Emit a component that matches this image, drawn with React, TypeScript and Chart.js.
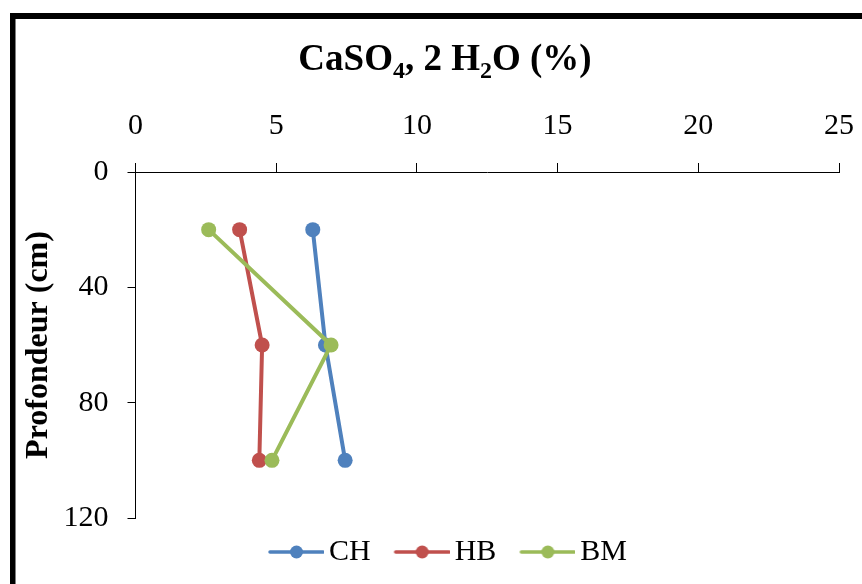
import React, { useEffect, useRef } from 'react';
import { Chart, registerables } from 'chart.js';

Chart.register(...registerables);

const seriesNames = ['CH', 'HB', 'BM'];
const depths = [20, 60, 100];
const chValues = [6.3, 6.75, 7.45];
const hbValues = [3.7, 4.5, 4.4];
const bmValues = [2.6, 6.95, 4.85];
const seriesColors = ['#4F81BD', '#C0504D', '#9BBB59'];
const xTickValues = [0, 5, 10, 15, 20, 25];
const yTickValues = [0, 40, 80, 120];

const FONT = '"Liberation Serif", "Times New Roman", Times, serif';

const LEG_BOX = 50;
const LEG_PAD = 19;

function makeLegendIcon(color: string): HTMLCanvasElement {
  const c = document.createElement('canvas');
  const w = LEG_BOX + 20;
  c.width = w;
  c.height = 16;
  const ctx = c.getContext('2d')!;
  const end = w / 2 + LEG_BOX / 2 + 9;
  const start = end - 53;
  ctx.strokeStyle = color;
  ctx.lineWidth = 3.5;
  ctx.lineCap = 'round';
  ctx.beginPath();
  ctx.moveTo(start, 8);
  ctx.lineTo(end, 8);
  ctx.stroke();
  ctx.fillStyle = color;
  ctx.beginPath();
  ctx.arc((start + end) / 2, 8, 6.5, 0, Math.PI * 2);
  ctx.fill();
  return c;
}

const framePlugin = {
  id: 'frameAndTitle',
  beforeDraw(chart: any) {
    const ctx = chart.ctx;
    ctx.save();
    ctx.fillStyle = '#fff';
    ctx.fillRect(0, 0, chart.width, chart.height);
    ctx.fillStyle = '#000';
    ctx.fillRect(10, 13, 5.5, chart.height);
    ctx.fillRect(10, 13, chart.width, 6);
    ctx.restore();
  },
  afterDraw(chart: any) {
    const ctx = chart.ctx;
    ctx.save();
    const parts: [string, boolean][] = [
      ['CaSO', false],
      ['4', true],
      [', 2 H', false],
      ['2', true],
      ['O (%)', false],
    ];
    const big = `bold 37px ${FONT}`;
    const small = `bold 24px ${FONT}`;
    let total = 0;
    for (const [t, sub] of parts) {
      ctx.font = sub ? small : big;
      total += ctx.measureText(t).width;
    }
    let x = 445 - total / 2;
    const baseline = 70;
    ctx.fillStyle = '#000';
    ctx.textBaseline = 'alphabetic';
    ctx.textAlign = 'left';
    for (const [t, sub] of parts) {
      ctx.font = sub ? small : big;
      ctx.fillText(t, x, sub ? baseline + 7.5 : baseline);
      x += ctx.measureText(t).width;
    }
    ctx.restore();
  },
};

export default function App() {
  const ref = useRef<HTMLCanvasElement | null>(null);

  useEffect(() => {
    if (!ref.current) return;
    const valueSets = [chValues, hbValues, bmValues];
    const icons = seriesColors.map((c) => makeLegendIcon(c));
    const datasets = seriesNames.map((name, i) => ({
      label: name,
      data: depths.map((d, j) => ({ x: valueSets[i][j], y: d })),
      order: seriesNames.length - i,
      borderColor: seriesColors[i],
      backgroundColor: seriesColors[i],
      pointBackgroundColor: seriesColors[i],
      pointBorderColor: seriesColors[i],
      borderWidth: 4,
      pointRadius: 7.5,
      pointBorderWidth: 0,
      tension: 0,
      fill: false,
    }));

    const chart = new Chart(ref.current, {
      type: 'line',
      data: { datasets },
      plugins: [framePlugin],
      options: {
        animation: false,
        responsive: false,
        maintainAspectRatio: false,
        layout: { padding: { left: 52, right: 23, top: 90, bottom: 7 } },
        plugins: {
          title: { display: false },
          tooltip: { enabled: false },
          legend: {
            display: true,
            position: 'bottom',
            labels: {
              usePointStyle: true,
              pointStyleWidth: LEG_BOX,
              padding: LEG_PAD,
              color: '#000',
              font: { family: FONT, size: 30 },
              generateLabels: (ch: any) =>
                ch.data.datasets.map((ds: any, i: number) => ({
                  text: ds.label,
                  pointStyle: icons[i],
                  fillStyle: seriesColors[i],
                  strokeStyle: seriesColors[i],
                  lineWidth: 0,
                  hidden: false,
                  datasetIndex: i,
                  fontColor: '#000',
                })),
              sort: (a: any, b: any) => a.datasetIndex - b.datasetIndex,
            },
          },
        },
        scales: {
          x: {
            type: 'linear',
            position: 'top',
            min: 0,
            max: 25,
            afterBuildTicks: (s: any) => {
              s.ticks = xTickValues.map((v) => ({ value: v }));
            },
            afterFit: (s: any) => {
              s.height = 82;
              s.paddingLeft = 0;
              s.paddingRight = 0;
            },
            grid: {
              display: true,
              drawOnChartArea: false,
              drawTicks: true,
              tickLength: 9,
              color: '#000',
              lineWidth: 1,
            },
            border: { display: true, color: '#000', width: 1 },
            ticks: {
              color: '#000',
              padding: 19,
              maxRotation: 0,
              font: { family: FONT, size: 30 },
            },
          },
          y: {
            type: 'linear',
            position: 'left',
            reverse: true,
            min: 0,
            max: 120,
            afterBuildTicks: (s: any) => {
              s.ticks = yTickValues.map((v) => ({ value: v }));
            },
            afterFit: (s: any) => {
              s.width = 83.5;
            },
            grid: {
              display: true,
              drawOnChartArea: false,
              drawTicks: true,
              tickLength: 8,
              color: '#000',
              lineWidth: 1,
            },
            border: { display: true, color: '#000', width: 1 },
            ticks: {
              color: '#000',
              padding: 19,
              font: { family: FONT, size: 30 },
            },
            title: {
              display: true,
              text: 'Profondeur (cm)',
              color: '#000',
              font: { family: FONT, size: 32, weight: 'bold' },
              padding: { top: -32.2, bottom: 0 },
            },
          },
        },
      } as any,
    });
    return () => chart.destroy();
  }, []);

  return (
    <div style={{ position: 'absolute', left: 0, top: 0, width: 862, height: 584 }}>
      <canvas ref={ref} width={862} height={584} />
    </div>
  );
}
